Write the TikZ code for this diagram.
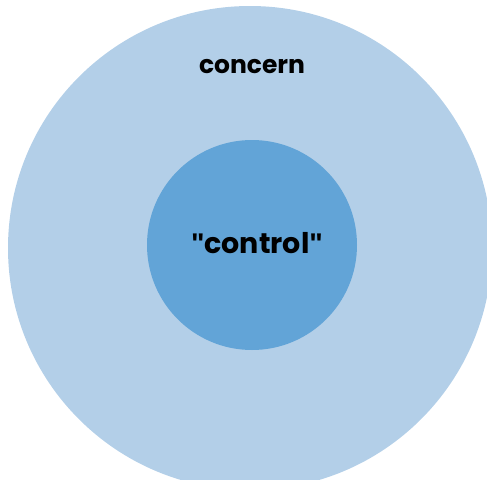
\documentclass[tikz,border=0pt]{standalone}
\usepackage{fontspec}
\setmainfont{Poppins}
\newfontfamily\qfont{Liberation Sans}
\newcommand{\sq}{{\qfont\bfseries\char34}}
\definecolor{outerblue}{HTML}{B3CFE8}
\definecolor{innerblue}{HTML}{62A4D7}
\begin{document}
\begin{tikzpicture}[x=1pt,y=-1pt,
  lbl/.style={text=black, inner sep=0pt}]
\useasboundingbox (0,0) rectangle (487,479);
\begin{scope}
\clip (0,0) rectangle (487,479);
\fill[outerblue] (250,248) circle[radius=242];
\end{scope}
\fill[innerblue] (252,245) circle[radius=105];
\node[lbl, font=\fontsize{25}{30}\selectfont\bfseries] (concern) at (252,67) {concern};
\node[lbl, font=\fontsize{28.5}{33}\selectfont\bfseries] (control) at (257,243) {\sq control\sq};
\end{tikzpicture}
\end{document}
